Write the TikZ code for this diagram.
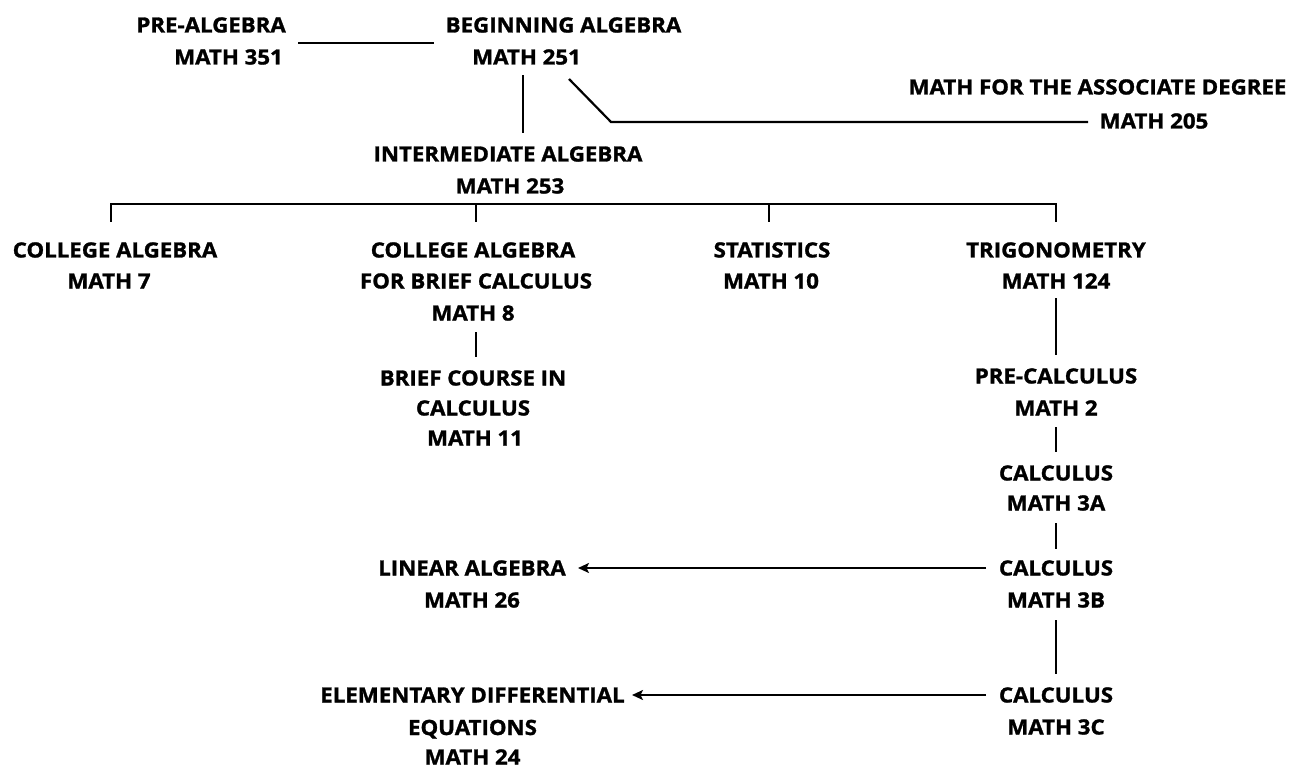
\documentclass[tikz,border=0pt]{standalone}
\usepackage{fontspec}
\setmainfont{Open Sans}[BoldFeatures={FakeBold=1.3,FakeStretch=1.06}]
\usetikzlibrary{calc,arrows.meta}
\newcommand{\coursefont}{\fontsize{21}{25}\selectfont\bfseries}
\tikzset{
  lbl/.style={inner sep=0pt, anchor=base, font=\coursefont},
  lblr/.style={inner sep=0pt, anchor=base east, font=\coursefont},
  conn/.style={line width=2.2pt},
  arr/.style={line width=2.2pt, -{Stealth[length=11pt,width=10pt,inset=2.5pt]}}
}
\begin{document}
\begin{tikzpicture}[x=1pt,y=-1pt]
\useasboundingbox (0,0) rectangle (1289,767);
% top row
\node[lblr] (pre1) at (286,32.5) {PRE-ALGEBRA};
\node[lblr] (pre2) at (283,64.5) {MATH 351};
\node[lbl] (ba1) at (563.5,32.5) {BEGINNING ALGEBRA};
\node[lbl] (ba2) at (526.5,64.5) {MATH 251};
\node[lbl] (ma1) at (1097.5,94.5) {MATH FOR THE ASSOCIATE DEGREE};
\node[lbl] (ma2) at (1154,128.5) {MATH 205};
\node[lbl] (ia1) at (508,161.5) {INTERMEDIATE ALGEBRA};
\node[lbl] (ia2) at (510,193.5) {MATH 253};
% second row
\node[lbl] (ca1) at (115,257.5) {COLLEGE ALGEBRA};
\node[lbl] (ca2) at (109,288.5) {MATH 7};
\node[lbl] (cb1) at (473,257.5) {COLLEGE ALGEBRA};
\node[lbl] (cb2) at (476,288.5) {FOR BRIEF CALCULUS};
\node[lbl] (cb3) at (473,320.5) {MATH 8};
\node[lbl] (bc1) at (473,385.5) {BRIEF COURSE IN};
\node[lbl] (bc2) at (473,415.5) {CALCULUS};
\node[lbl] (bc3) at (475,445.5) {MATH 11};
\node[lbl] (st1) at (772,257.5) {STATISTICS};
\node[lbl] (st2) at (771,288.5) {MATH 10};
\node[lbl] (tr1) at (1056,257.5) {TRIGONOMETRY};
\node[lbl] (tr2) at (1056,288.5) {MATH 124};
% right column
\node[lbl] (pc1) at (1056,383.5) {PRE-CALCULUS};
\node[lbl] (pc2) at (1056,415.5) {MATH 2};
\node[lbl] (c3a1) at (1056,480.5) {CALCULUS};
\node[lbl] (c3a2) at (1056,510.5) {MATH 3A};
\node[lbl] (c3b1) at (1056,575.5) {CALCULUS};
\node[lbl] (c3b2) at (1056,607.5) {MATH 3B};
\node[lbl] (c3c1) at (1056,702.5) {CALCULUS};
\node[lbl] (c3c2) at (1056,734.5) {MATH 3C};
% left lower
\node[lbl] (la1) at (472,575.5) {LINEAR ALGEBRA};
\node[lbl] (la2) at (472,607.5) {MATH 26};
\node[lbl] (ed1) at (472.5,702.5) {ELEMENTARY DIFFERENTIAL};
\node[lbl] (ed2) at (472.5,735) {EQUATIONS};
\node[lbl] (ed3) at (472.5,764.5) {MATH 24};
% connectors
\draw[conn] ($(pre1.base east)+(12,10.5)$) -- ($(ba1.base)+(-129.5,10.5)$);
\draw[conn] ($(ba2.base)+(-3.5,11)$) -- ($(ia1.base)+(15,-28.5)$);
\draw[conn] ($(ba2.base)+(42.5,14.5)$) -- ($(ma2.base)+(-543,-6.5)$) -- ($(ma2.base)+(-66,-6.5)$);
\coordinate (bus) at ($(ia2.base)+(0,10.5)$);
\draw[conn] ($(ca1.base)+(-4,-35.5)$) |- (bus) -| ($(tr1.base)+(0,-35.5)$);
\draw[conn] ($(cb1.base)+(3,-53.5)$) -- ($(cb1.base)+(3,-35.5)$);
\draw[conn] ($(st1.base)+(-3,-53.5)$) -- ($(st1.base)+(-3,-35.5)$);
\draw[conn] ($(cb3.base)+(3,11.5)$) -- ($(bc1.base)+(3,-28.5)$);
\draw[conn] ($(tr2.base)+(0,9.5)$) -- ($(pc1.base)+(0,-28.5)$);
\draw[conn] ($(pc2.base)+(0,11.5)$) -- ($(c3a1.base)+(0,-28.5)$);
\draw[conn] ($(c3a2.base)+(0,12.5)$) -- ($(c3b1.base)+(0,-26.5)$);
\draw[conn] ($(c3b2.base)+(0,12.5)$) -- ($(c3c1.base)+(0,-28.5)$);
\draw[arr] ($(c3b1.base)+(-70,-7.5)$) -- ($(la1.base)+(106,-7.5)$);
\draw[arr] ($(c3c1.base)+(-70,-7.5)$) -- ($(ed1.base)+(159.5,-7.5)$);
\end{tikzpicture}
\end{document}
